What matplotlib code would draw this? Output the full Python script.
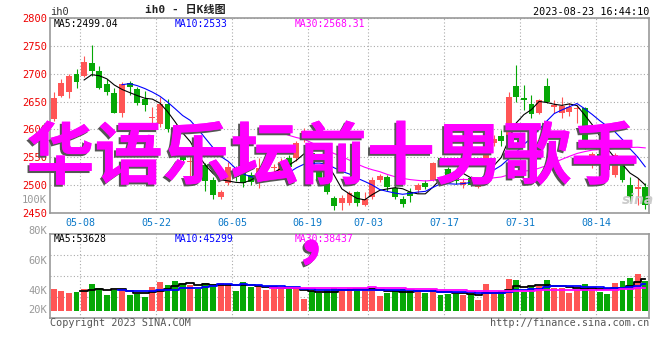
import numpy as np
import pandas as pd
import matplotlib
matplotlib.use('Agg')
import matplotlib.pyplot as plt
import matplotlib.patheffects as pe

plt.rcParams['font.family'] = ['DejaVu Sans Mono', 'Noto Sans CJK SC']

# daily K data, 2023-04-28 .. 2023-08-23 (79 trading days)
opens = [2619, 2660, 2668, 2699, 2696, 2720, 2705, 2682, 2666, 2630,
         2683, 2672, 2655, 2620, 2610, 2646, 2598, 2551, 2541, 2545,
         2536, 2509, 2479, 2504, 2529, 2522, 2518, 2506, 2533, 2530,
         2524, 2548, 2548, 2582, 2557, 2528, 2518, 2477, 2468, 2468,
         2487, 2464, 2479, 2509, 2515, 2494, 2476, 2488, 2491, 2504,
         2510, 2548, 2529, 2514, 2500, 2512, 2497, 2549, 2576, 2588,
         2570, 2678, 2657, 2646, 2629, 2678, 2641, 2629, 2632, 2636,
         2638, 2552, 2556, 2538, 2518, 2536, 2500, 2493, 2497]
highs = [2668, 2690, 2700, 2708, 2731, 2752, 2714, 2690, 2675, 2686,
         2687, 2677, 2669, 2641, 2659, 2654, 2602, 2560, 2557, 2550,
         2540, 2515, 2492, 2542, 2535, 2528, 2523, 2549, 2545, 2538,
         2548, 2555, 2580, 2602, 2562, 2535, 2528, 2481, 2482, 2489,
         2490, 2488, 2515, 2520, 2519, 2508, 2480, 2495, 2504, 2510,
         2541, 2551, 2532, 2520, 2512, 2516, 2510, 2582, 2590, 2599,
         2668, 2716, 2680, 2662, 2655, 2693, 2652, 2659, 2648, 2644,
         2640, 2560, 2562, 2545, 2558, 2540, 2515, 2512, 2503]
lows = [2615, 2658, 2657, 2674, 2695, 2696, 2672, 2662, 2630, 2623,
        2662, 2643, 2633, 2610, 2605, 2595, 2550, 2538, 2515, 2520,
        2490, 2475, 2476, 2500, 2508, 2496, 2500, 2495, 2528, 2525,
        2520, 2527, 2544, 2578, 2525, 2502, 2485, 2456, 2455, 2464,
        2462, 2462, 2476, 2506, 2490, 2476, 2461, 2470, 2486, 2493,
        2508, 2535, 2505, 2502, 2495, 2498, 2494, 2545, 2570, 2571,
        2565, 2650, 2635, 2621, 2627, 2648, 2630, 2620, 2625, 2612,
        2565, 2530, 2528, 2515, 2515, 2505, 2470, 2464, 2458]
closes = [2657, 2684, 2696, 2686, 2721, 2704, 2675, 2668, 2630, 2682,
          2676, 2648, 2644, 2622, 2646, 2600, 2556, 2545, 2543, 2528,
          2507, 2482, 2488, 2533, 2515, 2503, 2506, 2531, 2540, 2533,
          2542, 2533, 2575, 2598, 2530, 2508, 2488, 2463, 2477, 2485,
          2468, 2475, 2510, 2516, 2497, 2479, 2466, 2480, 2500, 2497,
          2539, 2539, 2513, 2508, 2506, 2500, 2506, 2578, 2583, 2580,
          2659, 2659, 2652, 2628, 2653, 2650, 2643, 2642, 2641, 2638,
          2567, 2556, 2540, 2527, 2554, 2509, 2478, 2497, 2464]
volumes = [38.0, 34.6, 31.2, 32.9, 38.0, 46.4, 39.7, 27.9, 35.8, 38.0,
           27.9, 29.0, 24.5, 41.4, 49.8, 44.7, 51.5, 48.6, 44.7, 38.0,
           48.1, 46.4, 48.1, 46.4, 34.6, 49.8, 41.4, 41.4, 36.3, 41.4,
           38.5, 41.4, 39.1, 21.1, 34.6, 31.8, 36.3, 40.2, 36.3, 40.2,
           36.3, 38.5, 39.1, 26.2, 31.8, 34.1, 37.4, 35.2, 34.1, 31.8,
           38.0, 27.9, 30.1, 30.1, 27.9, 30.1, 19.4, 46.4, 29.0, 34.6,
           54.9, 53.2, 33.5, 43.0, 43.0, 53.2, 39.1, 39.1, 31.8, 36.3,
           46.4, 40.8, 33.5, 29.0, 47.6, 51.5, 57.1, 63.3, 51.5]  # thousands

date_labels = ['05-08', '05-22', '06-05', '06-19', '07-03', '07-17', '07-31', '08-14']
date_index = [3, 13, 23, 33, 41, 51, 61, 71]
price_ticks = [2450, 2500, 2550, 2600, 2650, 2700, 2750, 2800]
vol_labels = ['100K', '80K', '60K', '40K', '20K']

RED = '#ff5555'
GREEN = '#06a806'
GRID = '#aaaaaa'
FRAME = '#999999'

W, H = 660, 360
fig = plt.figure(figsize=(W / 100, H / 100), dpi=100)


def fx(px):
    return px / W


def fy(py):
    return 1 - py / H


o = np.array(opens, float)
h = np.array(highs, float)
l = np.array(lows, float)
c = np.array(closes, float)
v = np.array(volumes, float)
x = np.arange(len(c))
cols = np.where(c >= o, RED, GREEN)

# ---- price panel
ax = fig.add_axes([fx(50), fy(213), 599 / W, 195 / H])
ax.vlines(x, l, h, colors=cols, lw=0.8, zorder=2)
ax.bar(x, np.maximum(np.abs(c - o), 1.2), bottom=np.minimum(o, c), width=0.78,
       color=cols, lw=0, zorder=3)
cs = pd.Series(c)
ax.plot(x, cs.rolling(5).mean(), color='black', lw=0.8, zorder=4)
ax.plot(x, cs.rolling(10).mean(), color='#0000ff', lw=0.8, zorder=4)
ax.plot(x, cs.rolling(30).mean(), color='#ff00ff', lw=0.8, zorder=4)
ax.set_xlim(-0.5, len(c) - 0.5)
ax.set_ylim(2450, 2800)
ax.set_yticks(price_ticks, [str(p) for p in price_ticks])
ax.set_xticks(np.array(date_index) + 0.5, date_labels)
ax.tick_params(axis='y', length=0, pad=2.2, labelsize=7.5, labelcolor='#ee0000')
ax.tick_params(axis='x', length=0, pad=3.5, labelsize=7.2, labelcolor='#0a78c8')
ax.grid(True, color=GRID, linestyle=(0, (1, 2)), lw=0.8)
ax.set_axisbelow(True)

# ---- volume panel
vx = fig.add_axes([fx(50), fy(318), 599 / W, 84 / H])
vx.bar(x, v, width=0.78, color=cols, lw=0, zorder=3)
vs = pd.Series(v)
vx.plot(x, vs.rolling(5).mean(), color='black', lw=1.3, drawstyle='steps-mid', zorder=4)
vx.plot(x, vs.rolling(10).mean(), color='#0000ff', lw=1.3, drawstyle='steps-mid', zorder=4)
vx.plot(x, vs.rolling(30).mean(), color='#ff00ff', lw=1.3, drawstyle='steps-mid', zorder=4)
lo, hi = -11.0, 130.8
vx.set_xlim(-0.5, len(c) - 0.5)
vx.set_ylim(lo, hi)
vx.set_xticks(np.array(date_index) + 0.5, [''] * len(date_index))
vx.set_yticks([lo + f * (hi - lo) for f in (0.25, 0.5, 0.75)], ['', '', ''])
vx.tick_params(length=0)
vx.grid(True, color=GRID, linestyle=(0, (1, 2)), lw=0.8)
vx.set_axisbelow(True)

for a in (ax, vx):
    for s in a.spines.values():
        s.set_color(FRAME)
        s.set_linewidth(1.2)

# volume axis labels (placed as drawn by the site)
for lab, py in zip(vol_labels, [200, 231, 261, 291, 310]):
    fig.text(fx(47), fy(py), lab, ha='right', va='center', fontsize=7.5, color='#999999')

# ---- header / footer text
fig.text(fx(50), fy(12), 'ih0', ha='left', va='center', fontsize=7.5, color='#333333')
fig.text(fx(185), fy(10), 'ih0 - 日K线图', ha='center', va='center', fontsize=8,
         color='#222222', weight='bold')
fig.text(fx(649), fy(12), '2023-08-23 16:44:10', ha='right', va='center', fontsize=7.3,
         color='black')
fig.text(fx(54), fy(24), 'MA5:2499.04', ha='left', va='center', fontsize=7, color='black')
fig.text(fx(175), fy(24), 'MA10:2533', ha='left', va='center', fontsize=7, color='#0000ff')
fig.text(fx(295), fy(24), 'MA30:2568.31', ha='left', va='center', fontsize=7, color='#ff00ff')
fig.text(fx(54), fy(238.5), 'MA5:53628', ha='left', va='center', fontsize=7, color='black')
fig.text(fx(175), fy(238.5), 'MA10:45299', ha='left', va='center', fontsize=7, color='#0000ff')
fig.text(fx(295), fy(238.5), 'MA30:38437', ha='left', va='center', fontsize=7, color='#ff00ff')
fig.text(fx(50), fy(323), 'Copyright 2023 SINA.COM', ha='left', va='center', fontsize=7.3,
         color='#555555')
fig.text(fx(649), fy(323), 'http://finance.sina.com.cn', ha='right', va='center', fontsize=7.3,
         color='#555555')
fig.text(fx(622), fy(200), 'sina', ha='left', va='center', fontsize=10, style='italic',
         weight='bold', color='#cccccc', family='DejaVu Sans')

# ---- overlay title
shadow = [pe.withSimplePatchShadow(offset=(-1.5, -1.5), shadow_rgbFace='#555555', alpha=1.0),
          pe.Normal()]
fig.text(fx(332.5), fy(159), '华语乐坛前十男歌手', ha='center', va='center', fontsize=49,
         family=['Noto Sans CJK SC'], weight='bold', color='#ff00ff',
         path_effects=shadow, zorder=10)
fig.text(fx(292), fy(256), '，', ha='left', va='baseline', fontsize=49,
         family=['Noto Sans CJK SC'], weight='bold', color='#ff00ff',
         path_effects=shadow, zorder=10)

fig.savefig('out.png', dpi=100)
